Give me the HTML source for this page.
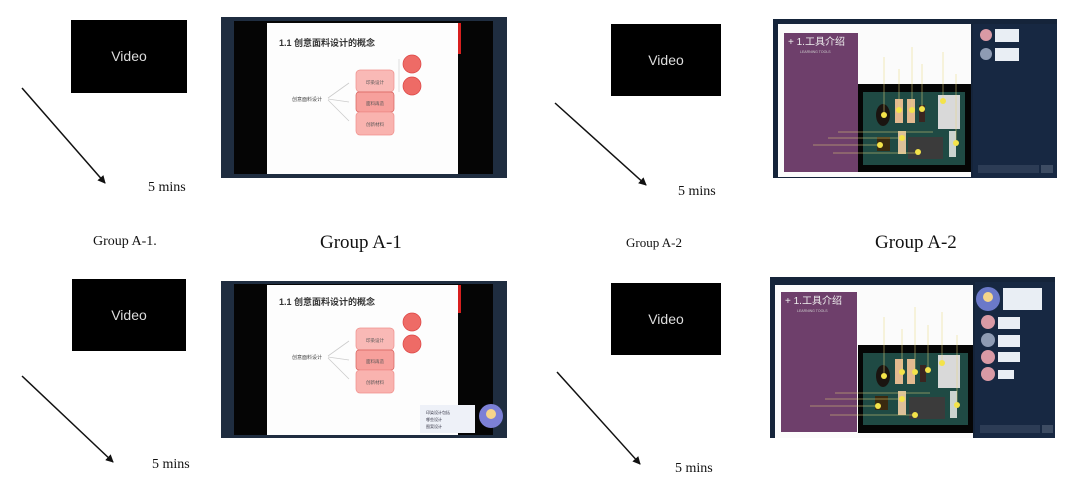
<!DOCTYPE html>
<html><head><meta charset="utf-8"><style>
html,body{margin:0;padding:0;background:#fff;}
svg{display:block;}
.ser{font-family:"Liberation Serif",serif;fill:#111;}
.vid{font-family:"Liberation Sans",sans-serif;fill:#ddd;font-size:14px;}
.cjk{font-family:"Liberation Sans","Noto Sans CJK SC",sans-serif;}
</style></head><body>
<svg width="1080" height="500" viewBox="0 0 1080 500">
<defs>
<marker id="ah" markerWidth="8" markerHeight="8" refX="7" refY="4" orient="auto" markerUnits="userSpaceOnUse"><path d="M0,0 L8,4 L0,8 z" fill="#111"/></marker>
</defs>

<g>
<rect x="71" y="20" width="116" height="73" fill="#000"/>
<text x="129" y="61" text-anchor="middle" class="vid">Video</text>
</g>
<line x1="22" y1="88" x2="105" y2="183" stroke="#111" stroke-width="1.5" marker-end="url(#ah)"/>
<text x="148" y="191" class="ser" font-size="14">5 mins</text>

<g transform="translate(221,17)">
<rect x="0" y="0" width="286" height="161" fill="#1f2d40"/>
<rect x="13" y="4" width="259" height="153" fill="#050505"/>
<rect x="46" y="6" width="191" height="151" fill="#fdfdfd"/>
<rect x="237" y="6" width="3" height="31" fill="#d8201f"/>
<text x="58" y="29" class="cjk" font-size="9" font-weight="bold" fill="#333">1.1 创意面料设计的概念</text>
<text x="71" y="84" class="cjk" font-size="5" fill="#444">创意面料设计</text>
<g stroke="#ccc" stroke-width="0.8"><line x1="107" y1="81" x2="128" y2="66"/><line x1="107" y1="82" x2="128" y2="85"/><line x1="107" y1="83" x2="128" y2="104"/></g>
<rect x="135" y="53" width="38" height="22" rx="4" fill="#f9b9b6" stroke="#ef8f8c" stroke-width="0.7"/>
<rect x="135" y="75" width="38" height="20" rx="3" fill="#f7a09c" stroke="#d8605c" stroke-width="0.7"/>
<rect x="135" y="95" width="38" height="23" rx="4" fill="#f9b3af" stroke="#ef8f8c" stroke-width="0.7"/>
<text x="154" y="67" text-anchor="middle" class="cjk" font-size="4.5" fill="#555">印染设计</text>
<text x="154" y="88" text-anchor="middle" class="cjk" font-size="4.5" fill="#555">面料再造</text>
<text x="154" y="109" text-anchor="middle" class="cjk" font-size="4.5" fill="#555">创新材料</text>
<line x1="178" y1="42" x2="178" y2="75" stroke="#ccc" stroke-width="0.6"/>
<circle cx="191" cy="47" r="9" fill="#ee6b66" stroke="#d44" stroke-width="0.7"/>
<circle cx="191" cy="69" r="9" fill="#ee6b66" stroke="#d44" stroke-width="0.7"/>
</g>

<text x="93" y="245" class="ser" font-size="14">Group A-1.</text>
<text x="320" y="248" class="ser" font-size="19">Group A-1</text>

<g>
<rect x="611" y="24" width="110" height="72" fill="#000"/>
<text x="666" y="65" text-anchor="middle" class="vid">Video</text>
</g>
<line x1="555" y1="103" x2="646" y2="185" stroke="#111" stroke-width="1.5" marker-end="url(#ah)"/>
<text x="678" y="195" class="ser" font-size="14">5 mins</text>

<g transform="translate(773,19)">
<rect x="0" y="0" width="284" height="159" fill="#15243a"/>
<rect x="5" y="5" width="193" height="153" fill="#fbfbfb"/>
<rect x="11" y="14" width="74" height="139" fill="#6e3f6b"/>
<text x="15" y="26" class="cjk" font-size="10" fill="#eee">+ 1.工具介绍</text>
<text x="27" y="34" class="cjk" font-size="3.5" fill="#ccc">LEARNING TOOLS</text>
<rect x="85" y="65" width="113" height="88" fill="#050505"/>
<rect x="90" y="73" width="102" height="73" fill="#1f4a44"/>
<rect x="165" y="76" width="22" height="34" fill="#d9d9d9"/>
<ellipse cx="110" cy="96" rx="7" ry="11" fill="#1a1410"/>
<rect x="122" y="80" width="8" height="24" fill="#e3b98f"/>
<rect x="134" y="80" width="8" height="24" fill="#e3b98f"/>
<rect x="146" y="86" width="6" height="17" fill="#3a2520"/>
<rect x="125" y="112" width="8" height="23" fill="#dcc09a"/>
<rect x="135" y="118" width="35" height="22" fill="#3b3b3b"/>
<rect x="176" y="112" width="7" height="26" fill="#cbd3cf"/>
<rect x="104" y="118" width="13" height="14" fill="#3a2a10"/>
<g fill="#f3e34a"><circle cx="111" cy="96" r="3"/><circle cx="126" cy="91" r="3"/><circle cx="139" cy="91" r="3"/><circle cx="149" cy="90" r="3"/><circle cx="170" cy="82" r="3"/><circle cx="129" cy="119" r="3"/><circle cx="107" cy="126" r="3"/><circle cx="145" cy="133" r="3"/><circle cx="183" cy="124" r="3"/></g>
<g stroke="#e8d77a" stroke-width="0.5"><line x1="111" y1="38" x2="111" y2="93"/><line x1="126" y1="50" x2="126" y2="88"/><line x1="139" y1="28" x2="139" y2="88"/><line x1="149" y1="45" x2="149" y2="87"/><line x1="170" y1="33" x2="170" y2="79"/><line x1="183" y1="55" x2="183" y2="121"/><line x1="65" y1="113" x2="160" y2="113"/><line x1="55" y1="119" x2="125" y2="119"/><line x1="40" y1="126" x2="104" y2="126"/><line x1="60" y1="134" x2="142" y2="134"/></g>
<rect x="200" y="5" width="84" height="154" fill="#172842"/>
<circle cx="213" cy="16" r="6" fill="#d99aa5"/><rect x="222" y="10" width="24" height="13" fill="#e9eef4"/>
<circle cx="213" cy="35" r="6" fill="#8e9bb3"/><rect x="222" y="29" width="24" height="13" fill="#e9eef4"/>
<rect x="205" y="146" width="61" height="8" fill="#2c3c55"/><rect x="268" y="146" width="12" height="8" fill="#3d4c63"/>
</g>

<text x="626" y="247" class="ser" font-size="13">Group A-2</text>
<text x="875" y="248" class="ser" font-size="19">Group A-2</text>

<g>
<rect x="72" y="279" width="114" height="72" fill="#000"/>
<text x="129" y="320" text-anchor="middle" class="vid">Video</text>
</g>
<line x1="22" y1="376" x2="113" y2="462" stroke="#111" stroke-width="1.5" marker-end="url(#ah)"/>
<text x="152" y="468" class="ser" font-size="14">5 mins</text>

<g transform="translate(221,281)">
<rect x="0" y="0" width="286" height="157" fill="#1f2d40"/>
<rect x="13" y="3" width="259" height="151" fill="#050505"/>
<rect x="46" y="4" width="191" height="150" fill="#fdfdfd"/>
<rect x="237" y="4" width="3" height="28" fill="#d8201f"/>
<text x="58" y="24" class="cjk" font-size="9" font-weight="bold" fill="#333">1.1 创意面料设计的概念</text>
<text x="71" y="78" class="cjk" font-size="5" fill="#444">创意面料设计</text>
<g stroke="#ccc" stroke-width="0.8"><line x1="107" y1="75" x2="128" y2="60"/><line x1="107" y1="76" x2="128" y2="79"/><line x1="107" y1="77" x2="128" y2="98"/></g>
<rect x="135" y="47" width="38" height="22" rx="4" fill="#f9b9b6" stroke="#ef8f8c" stroke-width="0.7"/>
<rect x="135" y="69" width="38" height="20" rx="3" fill="#f7a09c" stroke="#d8605c" stroke-width="0.7"/>
<rect x="135" y="89" width="38" height="23" rx="4" fill="#f9b3af" stroke="#ef8f8c" stroke-width="0.7"/>
<text x="154" y="61" text-anchor="middle" class="cjk" font-size="4.5" fill="#555">印染设计</text>
<text x="154" y="82" text-anchor="middle" class="cjk" font-size="4.5" fill="#555">面料再造</text>
<text x="154" y="103" text-anchor="middle" class="cjk" font-size="4.5" fill="#555">创新材料</text>
<circle cx="191" cy="41" r="9" fill="#ee6b66" stroke="#d44" stroke-width="0.7"/>
<circle cx="191" cy="63" r="9" fill="#ee6b66" stroke="#d44" stroke-width="0.7"/>
<rect x="199" y="124" width="55" height="28" fill="#eef1f8"/>
<text x="205" y="133" class="cjk" font-size="4" fill="#334">印染设计包括</text>
<text x="205" y="140" class="cjk" font-size="4" fill="#334">哪些设计</text>
<text x="205" y="147" class="cjk" font-size="4" fill="#334">图案设计</text>
<circle cx="270" cy="135" r="12" fill="#7c80d6"/>
<circle cx="270" cy="133" r="5" fill="#f6d58a"/>
</g>

<g>
<rect x="611" y="283" width="110" height="72" fill="#000"/>
<text x="666" y="324" text-anchor="middle" class="vid">Video</text>
</g>
<line x1="557" y1="372" x2="640" y2="464" stroke="#111" stroke-width="1.5" marker-end="url(#ah)"/>
<text x="675" y="472" class="ser" font-size="14">5 mins</text>

<g transform="translate(770,277)">
<rect x="0" y="0" width="285" height="161" fill="#15243a"/>
<rect x="5" y="8" width="198" height="153" fill="#fbfbfb"/>
<rect x="11" y="15" width="76" height="140" fill="#6e3f6b"/>
<text x="15" y="27" class="cjk" font-size="10" fill="#eee">+ 1.工具介绍</text>
<text x="27" y="35" class="cjk" font-size="3.5" fill="#ccc">LEARNING TOOLS</text>
<rect x="88" y="68" width="115" height="88" fill="#050505"/>
<rect x="93" y="76" width="105" height="72" fill="#1f4a44"/>
<rect x="168" y="78" width="22" height="33" fill="#d9d9d9"/>
<ellipse cx="113" cy="99" rx="7" ry="11" fill="#1a1410"/>
<rect x="125" y="82" width="8" height="25" fill="#e3b98f"/>
<rect x="137" y="82" width="8" height="25" fill="#e3b98f"/>
<rect x="150" y="88" width="6" height="17" fill="#3a2520"/>
<rect x="128" y="114" width="8" height="24" fill="#dcc09a"/>
<rect x="139" y="120" width="36" height="22" fill="#3b3b3b"/>
<rect x="180" y="114" width="7" height="27" fill="#cbd3cf"/>
<rect x="105" y="119" width="13" height="14" fill="#3a2a10"/>
<g fill="#f3e34a"><circle cx="114" cy="99" r="3"/><circle cx="132" cy="95" r="3"/><circle cx="145" cy="95" r="3"/><circle cx="158" cy="93" r="3"/><circle cx="172" cy="86" r="3"/><circle cx="132" cy="122" r="3"/><circle cx="108" cy="129" r="3"/><circle cx="145" cy="138" r="3"/><circle cx="187" cy="128" r="3"/></g>
<g stroke="#e8d77a" stroke-width="0.5"><line x1="114" y1="40" x2="114" y2="96"/><line x1="132" y1="52" x2="132" y2="92"/><line x1="145" y1="30" x2="145" y2="92"/><line x1="158" y1="48" x2="158" y2="90"/><line x1="172" y1="35" x2="172" y2="83"/><line x1="187" y1="58" x2="187" y2="125"/><line x1="65" y1="116" x2="160" y2="116"/><line x1="55" y1="122" x2="128" y2="122"/><line x1="40" y1="129" x2="105" y2="129"/><line x1="60" y1="138" x2="142" y2="138"/></g>
<rect x="205" y="5" width="80" height="156" fill="#172842"/>
<circle cx="218" cy="22" r="12" fill="#6b79c9"/><circle cx="218" cy="20" r="5" fill="#f6d58a"/>
<rect x="233" y="11" width="39" height="22" fill="#e9eef4"/>
<circle cx="218" cy="45" r="7" fill="#d99aa5"/><rect x="228" y="40" width="22" height="12" fill="#e9eef4"/>
<circle cx="218" cy="63" r="7" fill="#8e9bb3"/><rect x="228" y="58" width="22" height="12" fill="#e9eef4"/>
<circle cx="218" cy="80" r="7" fill="#d99aa5"/><rect x="228" y="75" width="22" height="10" fill="#e9eef4"/>
<circle cx="218" cy="97" r="7" fill="#d99aa5"/><rect x="228" y="93" width="16" height="9" fill="#e9eef4"/>
<rect x="210" y="148" width="60" height="8" fill="#2c3c55"/><rect x="272" y="148" width="11" height="8" fill="#3d4c63"/>
</g>
</svg>
</body></html>
